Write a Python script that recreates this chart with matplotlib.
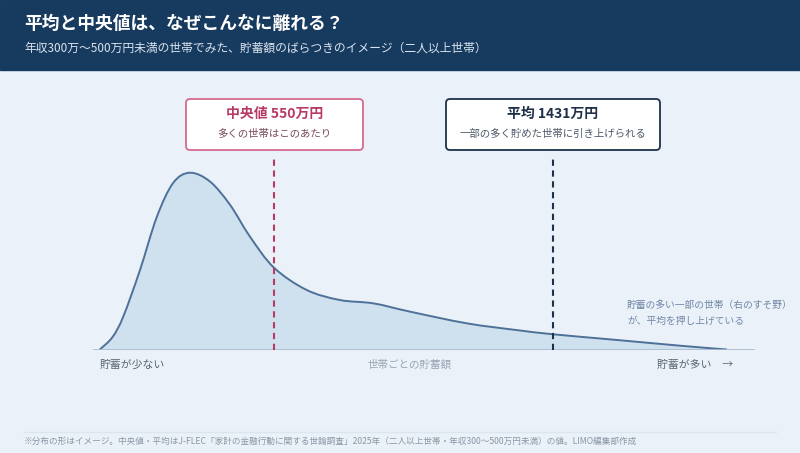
import numpy as np
import matplotlib.pyplot as plt
from matplotlib.patches import Rectangle, FancyBboxPatch, PathPatch
from matplotlib.path import Path

plt.rcParams['font.family'] = ['Noto Sans CJK JP', 'DejaVu Sans']

# Distribution shape (image only): savings in 万円 vs relative density
savings = [0, 40, 74, 127, 180, 232, 285, 348, 411, 474, 550, 653, 758, 864,
           980, 1159, 1316, 1432, 1632, 1842, 1980]
density = [0, 7, 18.6, 45, 75, 94.3, 100, 95, 81.9, 63.9, 46.3, 33.7, 28, 26.1,
           21.4, 14.8, 11, 8.6, 5.4, 2, 0]

median_value = 550
mean_value = 1431

title = '平均と中央値は、なぜこんなに離れる？'
subtitle = '年収300万～500万円未満の世帯でみた、貯蓄額のばらつきのイメージ（二人以上世帯）'
median_title = '中央値 550万円'
median_note = '多くの世帯はこのあたり'
mean_title = '平均 1431万円'
mean_note = '一部の多く貯めた世帯に引き上げられる'
tail_note = '貯蓄の多い一部の世帯（右のすそ野）\nが、平均を押し上げている'
x_left = '貯蓄が少ない'
x_mid = '世帯ごとの貯蓄額'
x_right = '貯蓄が多い　→'
footer = ('※分布の形はイメージ。中央値・平均はJ-FLEC「家計の金融行動に関する世論調査」2025年'
          '（二人以上世帯・年収300〜500万円未満）の値。LIMO編集部作成')

bg = '#eaf1f8'
navy = '#173a5f'
crimson = '#b73a62'
dark = '#1e3149'


def smooth_path(xs, ys, close=False):
    # cubic bezier segments through the points (catmull-rom style tangents)
    p = np.column_stack([xs, ys]).astype(float)
    n = len(p)
    verts = [p[0]]
    codes = [Path.MOVETO]
    for i in range(n - 1):
        a = p[i - 1] if i > 0 else p[i]
        b, c = p[i], p[i + 1]
        d = p[i + 2] if i + 2 < n else p[i + 1]
        verts += [b + (c - a) / 6, c - (d - b) / 6, c]
        codes += [Path.CURVE4] * 3
    if close:
        verts += [p[-1], p[0], p[0]]
        codes += [Path.LINETO, Path.LINETO, Path.CLOSEPOLY]
    return Path(verts, codes)


W, H = 800, 453
fig = plt.figure(figsize=(W / 100, H / 100), dpi=100, facecolor=bg)

# overlay axes in pixel coordinates for the decorations
deco = fig.add_axes([0, 0, 1, 1])
deco.set_xlim(0, W)
deco.set_ylim(H, 0)
deco.axis('off')
deco.add_patch(Rectangle((0, 0), W, 70, color=navy, zorder=0))
deco.text(24, 24, title, color='white', fontsize=12.8, fontweight='bold', va='center')
deco.text(24, 48, subtitle, color='#dbe5f0', fontsize=8.5, va='center')

# chart axes: baseline at y=349.5px, x from 93 to 755px
x0, x1 = 93, 755
ybase, ytop = 349.5, 90
ax = fig.add_axes([x0 / W, 1 - ybase / H, (x1 - x0) / W, (ybase - ytop) / H])
ax.set_facecolor('none')
ax.set_xlim(-21.5, 2069)
ax.set_ylim(0, 146.8)
ax.axis('off')
ax.add_patch(PathPatch(smooth_path(savings, density, close=True),
                       facecolor='#cfe0ef', edgecolor='none', zorder=1))
ax.add_patch(PathPatch(smooth_path(savings, density), facecolor='none',
                       edgecolor='#4e7198', lw=1.4, zorder=2))
ax.axhline(0, color='#a9b9cc', lw=1.2, zorder=3)
ax.vlines(median_value, 0, 109.4, color=crimson, lw=1.5, linestyles=(0, (3, 2.2)), zorder=4)
ax.vlines(mean_value, 0, 109.4, color=dark, lw=1.5, linestyles=(0, (3, 2.2)), zorder=4)

# annotation boxes
for (bx, bw, edge, tcol, ncol, t1, t2) in [
        (186, 177, '#d46a8f', crimson, '#7b4a5c', median_title, median_note),
        (446, 214, dark, dark, '#4d5a6a', mean_title, mean_note)]:
    deco.add_patch(FancyBboxPatch((bx, 99), bw, 51, boxstyle='round,pad=0,rounding_size=4',
                                  facecolor='white', edgecolor=edge, lw=1.3, zorder=5))
    deco.text(bx + bw / 2, 114, t1, color=tcol, fontsize=10, fontweight='bold',
              ha='center', va='center', zorder=6)
    deco.text(bx + bw / 2, 134, t2, color=ncol, fontsize=7.5, ha='center', va='center', zorder=6)

deco.text(627, 313, tail_note, color='#6f86a6', fontsize=7.0, va='center', linespacing=1.7)
deco.text(100, 365, x_left, color='#5a6472', fontsize=7.8, va='center')
deco.text(410, 365, x_mid, color='#9aa5b3', fontsize=7.6, ha='center', va='center')
deco.text(733, 365, x_right, color='#5a6472', fontsize=7.8, ha='right', va='center')

deco.plot([24, 776], [432, 432], color='#dde5ef', lw=1)
deco.text(24, 441, footer, color='#8a96a5', fontsize=6.2, va='center')

fig.savefig('out.png', dpi=100, facecolor=bg)
